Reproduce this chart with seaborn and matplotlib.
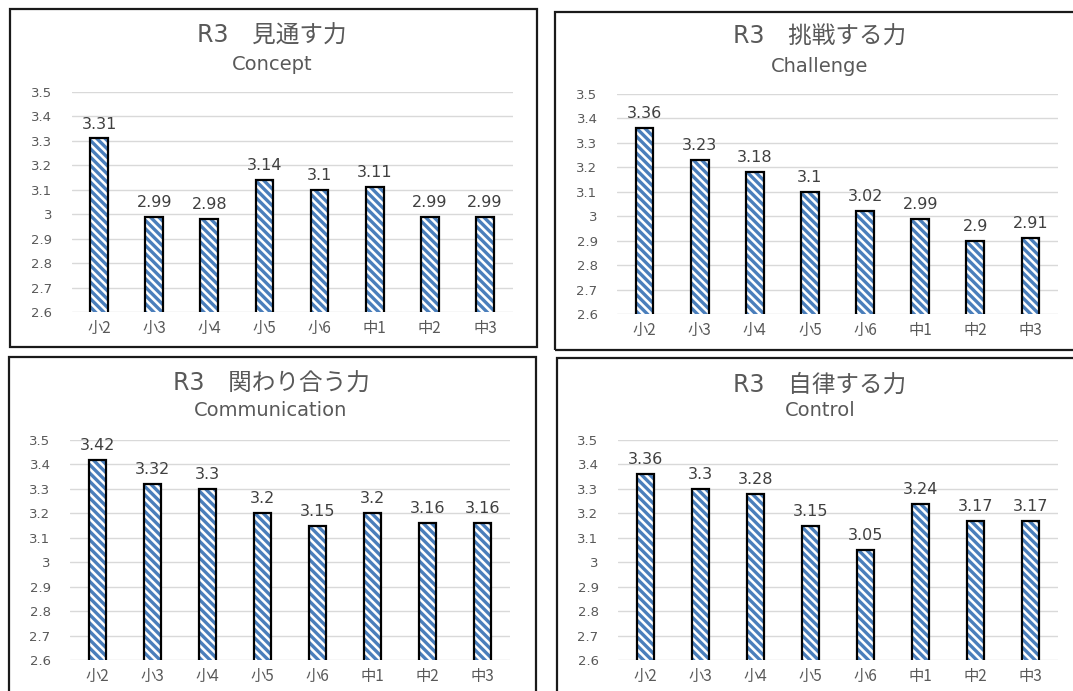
import matplotlib
matplotlib.use("Agg")
import matplotlib.pyplot as plt
import seaborn as sns
from matplotlib.patches import Rectangle
from matplotlib.ticker import FixedLocator, FuncFormatter

# ---------------- data ----------------
categories = ["小2", "小3", "小4", "小5", "小6", "中1", "中2", "中3"]

titles_jp = ["R3　見通す力", "R3　挑戦する力", "R3　関わり合う力", "R3　自律する力"]
titles_en = ["Concept", "Challenge", "Communication", "Control"]

concept = [3.31, 2.99, 2.98, 3.14, 3.10, 3.11, 2.99, 2.99]
challenge = [3.36, 3.23, 3.18, 3.10, 3.02, 2.99, 2.90, 2.91]
communication = [3.42, 3.32, 3.30, 3.20, 3.15, 3.20, 3.16, 3.16]
control = [3.36, 3.30, 3.28, 3.15, 3.05, 3.24, 3.17, 3.17]

series = [concept, challenge, communication, control]
y_ticks = [2.6, 2.7, 2.8, 2.9, 3.0, 3.1, 3.2, 3.3, 3.4, 3.5]

# ---------------- style ----------------
sns.set_theme(style="white")
plt.rcParams["font.family"] = ["DejaVu Sans", "Noto Sans CJK JP"]
plt.rcParams["hatch.linewidth"] = 2.4

W, H = 1073, 691
fig = plt.figure(figsize=(W / 100, H / 100), dpi=100)
fig.patch.set_facecolor("white")

BLUE = "#4a7ebb"
GRAY_TXT = "#595959"
LABEL_TXT = "#404040"
GRID = "#d9d9d9"
CJK = ["DejaVu Sans", "Noto Sans CJK JP"]

# panel layout in pixels: (axes x0, x1, y_top, y_bottom), border (x0, y0, x1, y1), title centre x, title y, subtitle y
layout = [
    dict(ax=(71.5, 512.5, 92, 312), box=(10, 9, 537, 347), tx=272, ty=36, sy=64),
    dict(ax=(617, 1058, 94, 314), box=(555, 12, 1085, 350), tx=820, ty=37, sy=66),
    dict(ax=(70, 510, 440, 660), box=(9, 357, 536, 700), tx=271, ty=384, sy=411),
    dict(ax=(618, 1058, 440, 660), box=(557, 358, 1085, 700), tx=820, ty=385, sy=411),
]

for vals, tj, te, lay in zip(series, titles_jp, titles_en, layout):
    x0, x1, yt, yb = lay["ax"]
    ax = fig.add_axes([x0 / W, 1 - yb / H, (x1 - x0) / W, (yb - yt) / H])

    # hatched fill layer
    sns.barplot(x=categories, y=vals, ax=ax, color="white", edgecolor=BLUE,
                linewidth=0, width=0.32, zorder=3)
    for p in ax.patches:
        p.set_hatch("\\" * 4)
    # outline layer
    sns.barplot(x=categories, y=vals, ax=ax, fill=False, color="black",
                linewidth=1.6, width=0.32, zorder=4)

    ax.set_ylim(2.6, 3.5)
    ax.yaxis.set_major_locator(FixedLocator(y_ticks))
    ax.yaxis.set_major_formatter(FuncFormatter(lambda v, pos: f"{v:g}"))
    ax.grid(axis="y", color=GRID, linewidth=1.0, zorder=0)
    ax.set_axisbelow(True)
    for s in ax.spines.values():
        s.set_visible(False)
    ax.tick_params(axis="y", length=0, pad=14, labelsize=9.5, labelcolor=GRAY_TXT)
    ax.tick_params(axis="x", length=0, pad=6, labelsize=11, labelcolor=GRAY_TXT)
    for lbl in ax.get_xticklabels():
        lbl.set_fontfamily(["Noto Sans CJK JP", "DejaVu Sans"])
    ax.set_xlabel("")
    ax.set_ylabel("")

    # data labels
    for i, v in enumerate(vals):
        ax.annotate(f"{v:g}", xy=(i, v), xytext=(0, 5), textcoords="offset points",
                    ha="center", va="bottom", fontsize=11.5, color=LABEL_TXT, zorder=5)

    # titles
    fig.text(lay["tx"] / W, 1 - lay["ty"] / H, tj, ha="center", va="center",
             fontsize=17, color=GRAY_TXT, family=CJK)
    fig.text(lay["tx"] / W, 1 - lay["sy"] / H, te, ha="center", va="center",
             fontsize=14, color=GRAY_TXT, family=CJK)

    # panel border
    bx0, by0, bx1, by1 = lay["box"]
    fig.add_artist(Rectangle((bx0 / W, 1 - by1 / H), (bx1 - bx0) / W, (by1 - by0) / H,
                             transform=fig.transFigure, fill=False,
                             edgecolor="#1a1a1a", linewidth=1.6, clip_on=False))

fig.savefig("out.png", dpi=100, facecolor="white")
